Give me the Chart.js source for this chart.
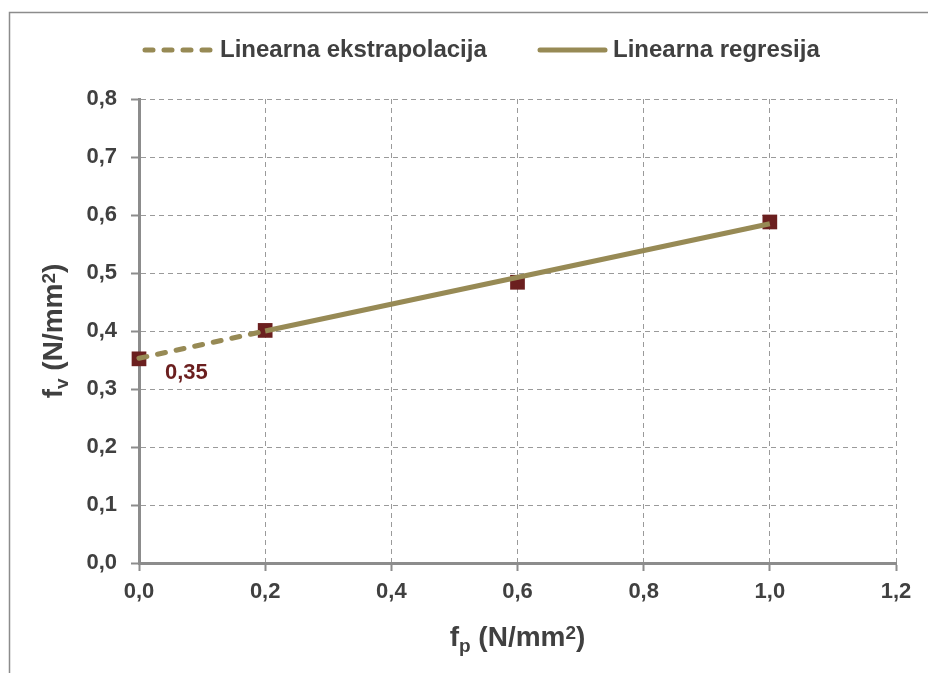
<!DOCTYPE html>
<html>
<head>
<meta charset="utf-8">
<script src="https://cdn.jsdelivr.net/npm/chart.js@4.4.1/dist/chart.umd.min.js"></script>
<style>
  html, body { margin: 0; padding: 0; background: #ffffff; }
  #caja_grafico { width: 928px; height: 673px; }
</style>
</head>
<body>
<div id="caja_grafico"><canvas id="grafico"></canvas></div>
<script>
// Datos medidos (fp, fv)
let fp_medido = [0.0, 0.2, 0.6, 1.0];
let fv_medido = [0.352, 0.401, 0.484, 0.588];

// Recta de regresion entre 0,2 y 1,0
let fp_regresion = [0.2, 1.0];
let fv_regresion = [0.400, 0.585];

// Extrapolacion lineal hasta fp = 0
let fp_extrapolacion = [0.0, 0.2];
let fv_extrapolacion = [0.353, 0.400];

// Textos y marcas de los ejes
let nombres_series = ["Linearna ekstrapolacija", "Linearna regresija"];
let etiqueta_corte = "0,35";
let ticks_x = [0.0, 0.2, 0.4, 0.6, 0.8, 1.0, 1.2];
let ticks_y = [0.0, 0.1, 0.2, 0.3, 0.4, 0.5, 0.6, 0.7, 0.8];

const color_linea = '#978a55';
const color_punto = '#6b1f1f';
const color_texto = '#404040';
const fuente = '"Liberation Sans", Arial, sans-serif';

function puntos(xs, ys) {
    return xs.map((x, i) => ({ x: x, y: ys[i] }));
}

function formatoComa(v) {
    return Number(v).toFixed(1).replace('.', ',');
}

// Dibuja un texto con partes en subindice / superindice
function dibujarTitulo(ctx, partes, x, y, rotado) {
    const t_normal = 28, t_peque = 19;
    ctx.save();
    ctx.translate(x, y);
    if (rotado) ctx.rotate(-Math.PI / 2);
    ctx.fillStyle = color_texto;
    ctx.textBaseline = 'alphabetic';
    ctx.textAlign = 'left';
    let total = 0;
    partes.forEach(p => {
        ctx.font = 'bold ' + (p.tipo === 'n' ? t_normal : t_peque) + 'px ' + fuente;
        p.ancho = ctx.measureText(p.t).width;
        total += p.ancho;
    });
    let cx = -total / 2;
    partes.forEach(p => {
        ctx.font = 'bold ' + (p.tipo === 'n' ? t_normal : t_peque) + 'px ' + fuente;
        let dy = 10;
        if (p.tipo === 'sub') dy = 16;
        if (p.tipo === 'sup') dy = 3;
        ctx.fillText(p.t, cx, dy);
        cx += p.ancho;
    });
    ctx.restore();
}

const extras = {
    id: 'extras',
    beforeDraw(chart) {
        const ctx = chart.ctx;
        ctx.save();
        ctx.fillStyle = '#ffffff';
        ctx.fillRect(0, 0, chart.width, chart.height);
        // marco exterior
        ctx.strokeStyle = '#8c8c8c';
        ctx.lineWidth = 1.5;
        ctx.beginPath();
        ctx.moveTo(9.5, chart.height);
        ctx.lineTo(9.5, 12.5);
        ctx.lineTo(chart.width, 12.5);
        ctx.stroke();
        ctx.restore();
    },
    afterDraw(chart) {
        const ctx = chart.ctx;
        const area = chart.chartArea;
        const sx = chart.scales.x;
        const sy = chart.scales.y;

        // leyenda
        const items = [
            { ds: chart.data.datasets[0], x0: 145, x1: 212, tx: 220 },
            { ds: chart.data.datasets[1], x0: 540, x1: 605, tx: 613 }
        ];
        ctx.save();
        items.forEach(it => {
            ctx.strokeStyle = it.ds.borderColor;
            ctx.lineWidth = it.ds.borderWidth;
            ctx.lineCap = 'round';
            ctx.setLineDash(it.ds.borderDash || []);
            ctx.beginPath();
            ctx.moveTo(it.x0, 50);
            ctx.lineTo(it.x1, 50);
            ctx.stroke();
            ctx.setLineDash([]);
            ctx.fillStyle = color_texto;
            ctx.font = 'bold 24px ' + fuente;
            ctx.textAlign = 'left';
            ctx.textBaseline = 'middle';
            ctx.fillText(it.ds.label, it.tx, 50);
        });
        ctx.restore();

        // titulos de ejes
        dibujarTitulo(ctx, [
            { t: 'f', tipo: 'n' }, { t: 'p', tipo: 'sub' }, { t: ' (N/mm', tipo: 'n' },
            { t: '2', tipo: 'sup' }, { t: ')', tipo: 'n' }
        ], (area.left + area.right) / 2, 636, false);
        dibujarTitulo(ctx, [
            { t: 'f', tipo: 'n' }, { t: 'v', tipo: 'sub' }, { t: ' (N/mm', tipo: 'n' },
            { t: '2', tipo: 'sup' }, { t: ')', tipo: 'n' }
        ], 52, (area.top + area.bottom) / 2, true);

        // etiqueta del corte con el eje y
        const px = sx.getPixelForValue(fp_extrapolacion[0]);
        const py = sy.getPixelForValue(fv_extrapolacion[0]);
        ctx.save();
        ctx.fillStyle = color_punto;
        ctx.font = 'bold 22px ' + fuente;
        ctx.textAlign = 'left';
        ctx.textBaseline = 'middle';
        ctx.fillText(etiqueta_corte, px + 26, py + 15);
        ctx.restore();
    }
};

const ctx = document.getElementById('grafico');
window.myChart = new Chart(ctx, {
    type: 'scatter',
    data: {
        datasets: [{
            label: nombres_series[0],
            data: puntos(fp_extrapolacion, fv_extrapolacion),
            showLine: true,
            borderColor: color_linea,
            borderWidth: 5,
            borderDash: [8, 11],
            borderCapStyle: 'round',
            pointRadius: 0,
            order: 0,
            clip: false
        }, {
            label: nombres_series[1],
            data: puntos(fp_regresion, fv_regresion),
            showLine: true,
            borderColor: color_linea,
            borderWidth: 5,
            pointRadius: 0,
            order: 0,
            clip: false
        }, {
            label: 'medido',
            data: puntos(fp_medido, fv_medido),
            showLine: false,
            pointStyle: 'rect',
            pointRadius: 10.4,
            pointBorderWidth: 0,
            backgroundColor: color_punto,
            borderColor: color_punto,
            order: 1,
            clip: false
        }]
    },
    options: {
        responsive: true,
        maintainAspectRatio: false,
        animation: false,
        layout: { padding: { left: 0, top: 99, right: 32, bottom: 0 } },
        plugins: {
            legend: { display: false },
            tooltip: { enabled: false }
        },
        scales: {
            x: {
                type: 'linear',
                min: 0,
                max: 1.2,
                afterBuildTicks: s => { s.ticks = ticks_x.map(v => ({ value: v })); },
                afterFit: s => { s.height = 110; },
                ticks: {
                    callback: formatoComa,
                    color: color_texto,
                    font: { family: fuente, size: 22, weight: 'bold' },
                    padding: 8,
                    maxRotation: 0,
                    autoSkip: false
                },
                grid: {
                    color: '#9a9a9a',
                    lineWidth: 1,
                    tickColor: '#8c8c8c',
                    tickWidth: 2,
                    tickLength: 8
                },
                border: { color: '#8c8c8c', width: 3, dash: [5, 4] }
            },
            y: {
                type: 'linear',
                min: 0,
                max: 0.8,
                afterBuildTicks: s => { s.ticks = ticks_y.map(v => ({ value: v })); },
                afterFit: s => { s.width = 139; },
                ticks: {
                    callback: formatoComa,
                    color: color_texto,
                    font: { family: fuente, size: 22, weight: 'bold' },
                    padding: 14,
                    autoSkip: false
                },
                grid: {
                    color: '#9a9a9a',
                    lineWidth: 1,
                    tickColor: '#8c8c8c',
                    tickWidth: 2,
                    tickLength: 8
                },
                border: { color: '#8c8c8c', width: 3, dash: [5, 4] }
            }
        }
    },
    plugins: [extras]
});
</script>
</body>
</html>
